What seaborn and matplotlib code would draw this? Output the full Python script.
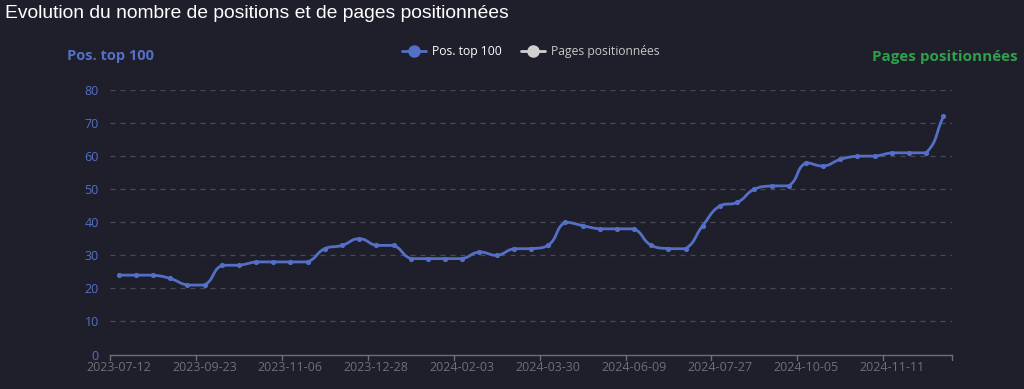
import numpy as np
import pandas as pd
import matplotlib
matplotlib.use("Agg")
import matplotlib.pyplot as plt
import seaborn as sns
from matplotlib.lines import Line2D

# values (one per category, 49 categories)
pos_top_100 = [24, 24, 24, 23, 21, 21, 27, 27, 28, 28,
               28, 28, 32, 33, 35, 33, 33, 29, 29, 29,
               29, 31, 30, 32, 32, 33, 40, 39, 38, 38,
               38, 33, 32, 32, 39, 45, 46, 50, 51, 51,
               58, 57, 59, 60, 60, 61, 61, 61, 72]
tick_labels = ["2023-07-12", "2023-09-23", "2023-11-06", "2023-12-28", "2024-02-03",
               "2024-03-30", "2024-06-09", "2024-07-27", "2024-10-05", "2024-11-11"]
label_step = 5
y_ticks = [0, 10, 20, 30, 40, 50, 60, 70, 80]

BG = "#1f1e2b"
BLUE = "#5470c6"
GREEN = "#2ea04a"
GREY = "#6e7079"

df = pd.DataFrame({"idx": np.arange(len(pos_top_100)), "pos": pos_top_100})


def echarts_smooth(xs, ys, sx, sy, smooth=0.5, n=20):
    # bezier smoothing like echarts "smooth: true" (control points clamped, no overshoot)
    px = np.asarray(xs, float) * sx
    py = np.asarray(ys, float) * sy
    m = len(px)
    cin, cout = [], []
    for i in range(m):
        pi, ni = max(i - 1, 0), min(i + 1, m - 1)
        vx, vy = px[ni] - px[pi], py[ni] - py[pi]
        lp = np.hypot(px[i] - px[pi], py[i] - py[pi])
        ln = np.hypot(px[ni] - px[i], py[ni] - py[i])
        r = ln / (lp + ln) if (lp + ln) > 0 else 0.5
        ix, iy = px[i] - vx * smooth * (1 - r), py[i] - vy * smooth * (1 - r)
        ox, oy = px[i] + vx * smooth * r, py[i] + vy * smooth * r
        iy = min(max(iy, min(py[pi], py[i])), max(py[pi], py[i]))
        oy = min(max(oy, min(py[ni], py[i])), max(py[ni], py[i]))
        cin.append((ix, iy))
        cout.append((ox, oy))
    t = np.linspace(0, 1, n)[1:, None]
    out = [np.array([px[0], py[0]])]
    for i in range(m - 1):
        p0 = np.array([px[i], py[i]])
        p3 = np.array([px[i + 1], py[i + 1]])
        p1 = np.array(cout[i])
        p2 = np.array(cin[i + 1])
        seg = (1 - t) ** 3 * p0 + 3 * (1 - t) ** 2 * t * p1 + 3 * (1 - t) * t ** 2 * p2 + t ** 3 * p3
        out.extend(seg)
    out = np.array(out)
    return out[:, 0] / sx, out[:, 1] / sy


sns.set_theme(style="dark")
plt.rcParams["font.family"] = ["Open Sans", "DejaVu Sans"]

fig = plt.figure(figsize=(10.24, 3.89), dpi=100, facecolor=BG)
ax = fig.add_axes([110 / 1024, 1 - 354.5 / 389, 842 / 1024, 264.5 / 389])
ax.set_facecolor(BG)

n = len(pos_top_100)
cx, cy = echarts_smooth(df["idx"], df["pos"], 17.2, 3.31)
smooth_df = pd.DataFrame({"x": cx, "y": cy})
sns.lineplot(data=smooth_df, x="x", y="y", ax=ax, color=BLUE, linewidth=2, sort=False, estimator=None)
sns.scatterplot(data=df, x="idx", y="pos", ax=ax, color=BLUE, s=14, edgecolor=BLUE, linewidth=0, zorder=3)

ax.set_xlim(-0.5, n - 0.5)
ax.set_ylim(0, 80)
ax.set_xlabel("")
ax.set_ylabel("")

for v in y_ticks[1:]:
    ax.axhline(v, color="#4a4b57", linewidth=0.9, linestyle=(0, (4, 4)), zorder=0)

ax.set_yticks(y_ticks)
ax.tick_params(axis="y", length=0, pad=8, labelcolor=BLUE, labelsize=9)
ax.set_xticks(np.arange(0, n, label_step))
ax.set_xticklabels(tick_labels)
ax.tick_params(axis="x", length=0, pad=5, labelcolor=GREY, labelsize=9)
# boundary ticks like a category axis
for b in list(np.arange(0, n, label_step) - 0.5) + [n - 0.5]:
    ax.plot([b, b], [0, -1.6], color=GREY, linewidth=1, clip_on=False)

for side in ["top", "right", "left"]:
    ax.spines[side].set_visible(False)
ax.spines["bottom"].set_color(GREY)
ax.spines["bottom"].set_linewidth(1)
ax.grid(False)

fig.text(5 / 1024, 1 - 14 / 389, "Evolution du nombre de positions et de pages positionnées",
         color="white", fontsize=13.85, va="center", ha="left", family=["Liberation Sans", "DejaVu Sans"])
fig.text(67 / 1024, 1 - 56 / 389, "Pos. top 100", color=BLUE, fontsize=10.5,
         fontweight="bold", va="center", ha="left")
fig.text(1018 / 1024, 1 - 57 / 389, "Pages positionnées", color=GREEN, fontsize=11,
         fontweight="bold", va="center", ha="right")

handles = [Line2D([], [], color=BLUE, marker="o", markersize=8, linewidth=2),
           Line2D([], [], color="#d0d0d0", marker="o", markersize=8, linewidth=2)]
leg = fig.legend(handles, ["Pos. top 100", "Pages positionnées"], loc="center",
                 bbox_to_anchor=(531 / 1024, 1 - 52 / 389), ncol=2, frameon=False,
                 fontsize=8.7, handlelength=2.0, columnspacing=1.6, handletextpad=0.5)
leg.get_texts()[0].set_color("white")
leg.get_texts()[1].set_color("#c8c8c8")

fig.savefig("out.png", dpi=100, facecolor=BG)
